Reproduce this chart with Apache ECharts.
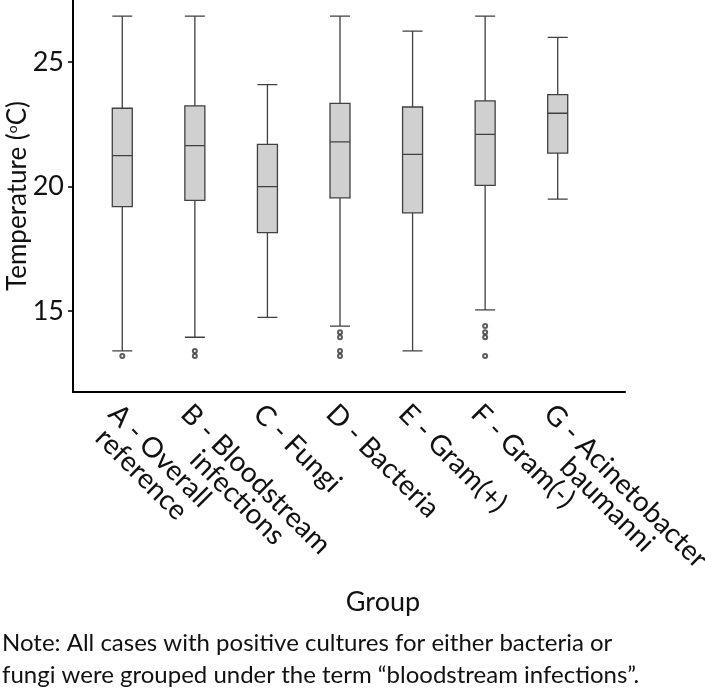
<!DOCTYPE html>
<html>
<head>
<meta charset="utf-8">
<script src="https://cdn.jsdelivr.net/npm/echarts@6/dist/echarts.min.js"></script>
<style>
  html, body { margin: 0; padding: 0; background: #fff; }
  #chart { width: 705px; height: 691px; }
</style>
</head>
<body>
<div id="chart"></div>
<script>
// groups along the x axis
const groups = [
  'A - Overall\nreference',
  'B - Bloodstream\ninfections',
  'C - Fungi',
  'D - Bacteria',
  'E - Gram(+)',
  'F - Gram(-)',
  'G - Acinetobacter\nbaumanni'
]
// whisker low, Q1, median, Q3, whisker high (ºC)
const whiskerLow = [13.4, 13.95, 14.75, 14.4, 13.4, 15.05, 19.5]
const q1 = [19.2, 19.45, 18.15, 19.55, 18.95, 20.05, 21.35]
const median = [21.25, 21.65, 20.0, 21.8, 21.3, 22.1, 22.95]
const q3 = [23.15, 23.25, 21.7, 23.35, 23.2, 23.45, 23.7]
const whiskerHigh = [26.85, 26.85, 24.1, 26.85, 26.25, 26.85, 26.0]
// outliers: [group index, value]
const outliers = [
  [0, 13.2],
  [1, 13.4], [1, 13.2],
  [3, 14.15], [3, 13.95], [3, 13.4], [3, 13.2],
  [5, 14.4], [5, 14.15], [5, 13.95], [5, 13.2]
]
const yTicks = [15, 20, 25]
const yMin = 11.75
const yMax = 27.5

const boxData = groups.map((g, i) => [whiskerLow[i], q1[i], median[i], q3[i], whiskerHigh[i]])

const font = 'Lato'
const chart = echarts.init(document.getElementById('chart'), null, { renderer: 'canvas' })

const option = {
  animation: false,
  textStyle: { fontFamily: font },
  title: [
    {
      text: 'Group',
      left: 378,
      top: 584,
      textAlign: 'center',
      textStyle: { fontFamily: font, fontSize: 27, fontWeight: 'normal', color: '#111' }
    },
    {
      text: 'Note: All cases with positive cultures for either bacteria or\nfungi were grouped under the term \u201cbloodstream infections\u201d.',
      left: 0,
      top: 625,
      padding: 2,
      textStyle: { fontFamily: font, fontSize: 24, fontWeight: 'normal', color: '#111', lineHeight: 32 }
    }
  ],
  grid: [
    // boxes
    { left: 86, top: 0, width: 508, height: 392, outerBoundsMode: 'none', containLabel: false },
    // frame: axis lines, y labels
    { left: 73, top: 0, width: 552, height: 392, outerBoundsMode: 'none', containLabel: false }
  ],
  xAxis: [
    {
      type: 'category',
      gridIndex: 0,
      data: groups,
      axisLine: { show: false },
      axisTick: { alignWithLabel: true, length: 6, lineStyle: { color: '#000', width: 1.5 } },
      axisLabel: {
        interval: 0,
        rotate: -45,
        margin: 8,
        verticalAlign: 'top',
        hideOverlap: false,
        color: '#111',
        fontFamily: font,
        fontSize: 28,
        lineHeight: 26,
        // lines of a two-line label are centred on each other
        formatter: v => v.split('\n').map(s => '{c|' + s + '}').join('\n'),
        rich: {
          c: { align: 'center', fontFamily: font, fontSize: 28, lineHeight: 26, color: '#111' }
        }
      },
      splitLine: { show: false }
    },
    {
      type: 'value',
      gridIndex: 1,
      min: 0,
      max: 1,
      axisLine: { show: true, lineStyle: { color: '#000', width: 2 } },
      axisTick: { show: false },
      axisLabel: { show: false },
      splitLine: { show: false }
    }
  ],
  yAxis: [
    {
      type: 'value',
      gridIndex: 0,
      min: yMin,
      max: yMax,
      show: false
    },
    {
      type: 'value',
      gridIndex: 1,
      min: yMin,
      max: yMax,
      name: 'Temperature ({s|o}C)',
      nameLocation: 'middle',
      nameGap: 42,
      nameMoveOverlap: false,
      nameTextStyle: {
        fontFamily: font,
        fontSize: 26,
        color: '#111',
        rich: { s: { fontFamily: font, fontSize: 14, color: '#111', verticalAlign: 'top', padding: [0, 0, 11, 0] } }
      },
      axisLine: { show: true, onZero: false, lineStyle: { color: '#000', width: 2 } },
      axisTick: { show: true, length: 5, customValues: yTicks, lineStyle: { color: '#000', width: 1.5 } },
      axisLabel: { customValues: yTicks, margin: 9, fontSize: 27, color: '#111', fontFamily: font },
      splitLine: { show: false }
    }
  ],
  series: [
    {
      type: 'boxplot',
      xAxisIndex: 0,
      yAxisIndex: 0,
      data: boxData,
      boxWidth: [20, 20],
      itemStyle: { color: '#d0d0d0', borderColor: '#404040', borderWidth: 1.3 }
    },
    {
      type: 'scatter',
      xAxisIndex: 0,
      yAxisIndex: 0,
      data: outliers,
      symbol: 'emptyCircle',
      symbolSize: 4,
      itemStyle: { color: '#333', borderWidth: 1 }
    }
  ]
}

chart.setOption(option)
</script>
</body>
</html>
